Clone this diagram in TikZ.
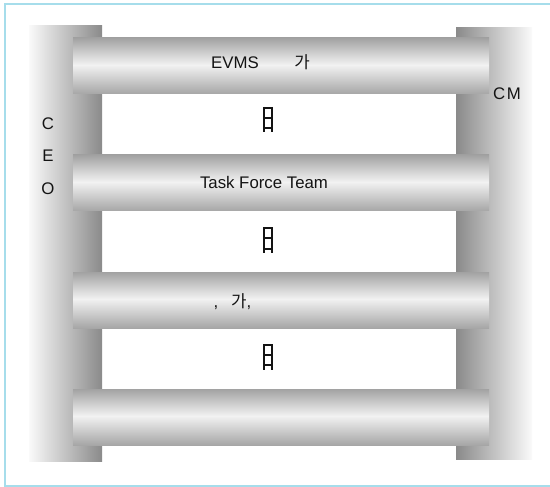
\documentclass[tikz,border=0pt]{standalone}
\usepackage{fontspec}
\setmainfont{Liberation Sans}
\newfontfamily\krfont{Noto Sans CJK KR}
\definecolor{bartop}{HTML}{A2A2A2}
\definecolor{barhi}{HTML}{F2F2F2}
\definecolor{barbot}{HTML}{A6A6A6}
\definecolor{postlt}{HTML}{FAFAFA}
\definecolor{postdk}{HTML}{8A8A8A}
\definecolor{framecol}{HTML}{A6DDEB}
\definecolor{txtcol}{HTML}{141414}
\pgfdeclareverticalshading{barshade}{100bp}{color(0bp)=(barbot); color(25bp)=(barbot); color(51bp)=(barhi); color(75bp)=(bartop); color(100bp)=(bartop)}
\pgfdeclarehorizontalshading{leftpostshade}{100bp}{color(0bp)=(postlt); color(25bp)=(postlt); color(75bp)=(postdk); color(100bp)=(postdk)}
\pgfdeclarehorizontalshading{rightpostshade}{100bp}{color(0bp)=(postdk); color(25bp)=(postdk); color(75bp)=(postlt); color(100bp)=(postlt)}
\tikzset{
  barbox/.style={rectangle, draw=none, inner sep=0pt, minimum width=416pt, minimum height=56pt, shade, shading=barshade},
  postbox/.style={rectangle, draw=none, inner sep=0pt},
  lbl/.style={inner sep=0pt, text=txtcol, font=\fontsize{16.8}{19}\selectfont},
  frameline/.style={draw=framecol, line width=2pt},
  ladsym/.pic={
    \draw[line width=2pt, txtcol] (-3.7,-12.5) -- (-3.7,13);
    \draw[line width=2pt, txtcol] (3.7,-12.5) -- (3.7,13);
    \draw[line width=2pt, txtcol] (-3.7,-11.5) -- (3.7,-11.5);
    \draw[line width=2pt, txtcol] (-3.7,-1.5) -- (3.7,-1.5);
    \draw[line width=2pt, txtcol] (-3.7,8.5) -- (3.7,8.5);
  }
}
\begin{document}
\begin{tikzpicture}[x=1pt,y=-1pt]
\useasboundingbox (0,0) rectangle (550,487);
\fill[white] (-2,-2) rectangle (560,490);
% frame
\coordinate (f1) at (560,4);
\coordinate (f2) at (5,4);
\coordinate (f3) at (5,485.5);
\coordinate (f4) at (560,485.5);
\draw[frameline] (f1) -- (f2) -- (f3) -- (f4);
% posts
\node[postbox, minimum width=73pt, minimum height=435pt, shade, shading=leftpostshade] (lpost) at (65.5,243.5) {};
\node[postbox, minimum width=76pt, minimum height=431pt, shade, shading=rightpostshade] (rpost) at (494,243.5) {};
% bars
\node[barbox] (bar1) at (281,66) {};
\node[barbox] (bar2) at (281,183) {};
\node[barbox] (bar3) at (281,300) {};
\node[barbox] (bar4) at (281,417) {};
% texts
\node[lbl, anchor=base] (evms) at (235,69) {EVMS};
\node[lbl, anchor=base] (ga1) at (302,69) {\krfont 가};
\node[lbl, anchor=base] (tft) at (264,189) {Task Force Team};
\node[lbl, anchor=base] (comma1) at (216,307) {,};
\node[lbl, anchor=base west] (ga2) at (231,307) {{\krfont 가},};
\node[lbl, anchor=base west] (cm) at (493,100) {C\kern1.5pt M};
\node[lbl, anchor=base] (ceoC) at (48,130) {C};
\node[lbl, anchor=base] (ceoE) at (48,162) {E};
\node[lbl, anchor=base] (ceoO) at (48,194) {O};
% symbols
\pic (sym1) at (268,119.5) {ladsym};
\pic (sym2) at (268,240) {ladsym};
\pic (sym3) at (268,356.5) {ladsym};
\end{tikzpicture}
\end{document}
